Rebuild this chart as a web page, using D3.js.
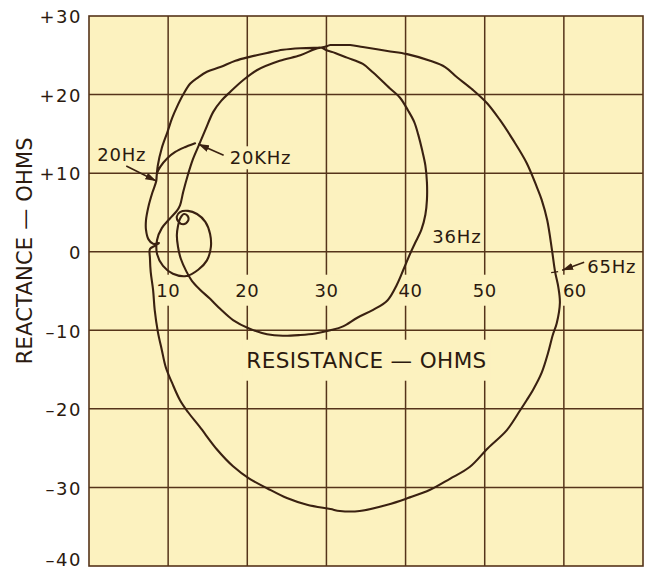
<!DOCTYPE html>
<html>
<head>
<meta charset="utf-8">
<script src="https://cdn.jsdelivr.net/npm/d3@7"></script>
<style>
  html, body { margin: 0; padding: 0; background: #ffffff; }
  svg { display: block; }
  text { font-family: "DejaVu Sans", "Noto Sans", sans-serif; fill: #2b1a0f; }
</style>
</head>
<body>
<svg id="chart" width="649" height="572"></svg>
<script>
// ---- Impedance trace, resistance (ohms) vs reactance (ohms), in frequency order ----
// 20 Hz upward, over the top and down through the 36 Hz peak
const traceLow = [
  [8.5, 9.0], [8.7, 11.0], [9.2, 13.2], [9.9, 15.2], [10.5, 17.0], [11.1, 18.4], [11.9, 20.0],
  [12.8, 21.4], [13.8, 22.2], [14.9, 22.9], [16.6, 23.5], [18.5, 24.3], [20.3, 24.8], [22.5, 25.3],
  [24.5, 25.7], [26.7, 25.9], [28.6, 25.95], [29.4, 25.95],
  [30.1, 25.6], [31.1, 25.3], [32.6, 24.7], [34.6, 23.9], [35.9, 22.8], [38.0, 20.8], [39.3, 19.6],
  [40.3, 18.0], [41.1, 16.5], [41.6, 14.9], [42.1, 12.9], [42.5, 11.0], [42.7, 8.8], [42.7, 6.6],
  [42.5, 4.7], [42.0, 2.8], [41.2, 1.1], [40.6, -0.2], [39.8, -2.1], [38.9, -4.2], [37.7, -6.2],
  [35.9, -7.4], [33.9, -8.4], [32.1, -9.5], [30.5, -10.0], [28.6, -10.4], [26.7, -10.6], [24.5, -10.7],
  [22.5, -10.5], [20.3, -9.8], [18.2, -8.7], [16.6, -7.3], [15.3, -6.0], [14.0, -4.8], [13.0, -3.7]
];
// back up the left side, small curl and the loop around 12 ohms
const traceLoops = [
  [12.3, -2.5], [11.6, -0.9], [11.25, 0.6], [11.1, 2.1], [11.25, 3.3], [11.5, 4.2], [12.0, 4.8],
  [12.5, 4.5], [12.5, 3.9], [11.9, 3.5], [11.25, 3.9], [11.1, 4.5], [11.5, 5.05], [12.5, 5.2],
  [13.65, 4.8], [14.7, 3.8], [15.3, 2.25], [15.4, 0.6], [14.9, -1.1], [13.8, -2.3], [12.3, -3.1],
  [10.6, -2.8], [9.35, -1.8], [8.6, -0.3], [8.6, 1.5], [9.2, 3.0], [10.2, 4.2], [11.1, 5.2], [11.5, 5.9]
];
// the large circle through the 65 Hz peak
const traceMid = [
  [11.9, 7.6], [12.5, 9.8], [13.1, 11.7], [13.9, 13.6], [14.7, 15.5], [15.7, 17.8], [16.7, 19.2],
  [17.8, 20.3], [19.5, 21.85], [21.2, 23.1], [24.1, 24.3], [26.7, 25.0], [28.6, 25.8], [29.7, 26.05],
  [30.5, 26.3], [31.3, 26.3], [33.0, 26.3], [34.6, 26.05], [37.7, 25.55], [40.2, 25.15], [43.1, 24.3],
  [45.0, 23.5], [46.5, 22.2], [48.5, 20.6], [50.3, 18.9], [51.9, 16.8], [53.6, 14.2], [55.3, 11.3],
  [56.6, 8.2], [57.2, 6.6], [57.9, 4.0], [58.5, 0.2], [58.9, -2.6], [59.3, -4.5], [59.5, -6.5],
  [59.1, -9.1], [58.6, -10.6], [58.0, -12.9], [57.2, -15.4], [56.1, -17.6], [55.3, -18.9], [54.5, -20.15],
  [52.8, -22.7], [50.4, -25.0], [48.1, -27.4], [45.6, -28.9], [43.1, -30.3], [40.3, -31.35], [37.7, -32.2],
  [34.2, -33.0], [31.7, -33.0], [30.5, -32.75], [27.55, -32.2], [25.0, -31.35], [22.5, -30.1], [20.3, -28.9],
  [18.2, -27.3], [16.2, -25.2], [14.0, -22.3], [12.5, -20.4], [11.5, -18.9], [10.5, -16.7], [9.7, -14.7],
  [9.2, -12.5], [8.7, -10.2], [8.3, -7.4], [8.1, -4.9], [7.8, -2.6], [7.7, -0.8], [7.7, 0.35]
];
// high-frequency end, rising to 20 kHz
const traceHigh = [
  [8.3, 0.75], [8.85, 1.1], [8.1, 1.0], [7.5, 1.6], [7.2, 2.8], [7.2, 4.0], [7.5, 5.7], [8.0, 7.5],
  [8.5, 9.0], [8.6, 10.0], [9.0, 10.8], [9.9, 11.9], [10.9, 12.7], [12.1, 13.3], [13.4, 13.8]
];

// Frequency markers: label and the point on the trace
const freqLabels = ["20Hz", "20KHz", "36Hz", "65Hz"];
const freqPoints = [[8.5, 9.0], [13.6, 13.8], [40.6, -0.2], [58.9, -2.6]];

// Axes
const xTicks = [10, 20, 30, 40, 50, 60];
const xTickLabels = ["10", "20", "30", "40", "50", "60"];
const yTicks = [30, 20, 10, 0, -10, -20, -30, -40];
const yTickLabels = ["+30", "+20", "+10", "0", "–10", "–20", "–30", "–40"];
const xTitle = "RESISTANCE — OHMS";
const yTitle = "REACTANCE — OHMS";

// ---- layout ----
const margin = { left: 89, top: 16, right: 6, bottom: 6 };
const svg = d3.select("#chart");
const W = +svg.attr("width"), H = +svg.attr("height");
const x = d3.scaleLinear().domain([0, 70]).range([margin.left, W - margin.right]);
const y = d3.scaleLinear().domain([-40, 30]).range([H - margin.bottom, margin.top]);

const paper = "#fcf2bf";
const ink = "#3a2111";
const gridInk = "#55341a";

const gBg = svg.append("g");
const gGrid = svg.append("g");
const gLabelBg = svg.append("g");
const gCurve = svg.append("g");
const gText = svg.append("g");

gBg.append("rect")
  .attr("x", x(0)).attr("y", y(30))
  .attr("width", x(70) - x(0)).attr("height", y(-40) - y(30))
  .attr("fill", paper);

// grid
gGrid.selectAll("line.v").data(d3.range(10, 70, 10)).join("line")
  .attr("x1", d => x(d)).attr("x2", d => x(d))
  .attr("y1", y(30)).attr("y2", y(-40))
  .attr("stroke", gridInk).attr("stroke-width", 1.5);
gGrid.selectAll("line.h").data(d3.range(-30, 30, 10)).join("line")
  .attr("y1", d => y(d)).attr("y2", d => y(d))
  .attr("x1", x(0)).attr("x2", x(70))
  .attr("stroke", gridInk).attr("stroke-width", 1.5);

// y axis labels (the lowest one is lifted to stay inside the page)
const yAxis = d3.axisLeft(y).tickValues(yTicks)
  .tickFormat((d, i) => yTickLabels[i]).tickSize(0).tickPadding(7);
const gy = svg.append("g").attr("transform", `translate(${x(0)},0)`).call(yAxis);
gy.select(".domain").remove();
gy.selectAll("text")
  .attr("font-family", "DejaVu Sans, sans-serif")
  .attr("font-size", 18).attr("fill", "#2b1a0f")
  .attr("letter-spacing", 1.5)
  .attr("dy", d => d === -40 ? "-0.05em" : "0.38em");

// label with a paper-coloured backing that interrupts the grid
function boxedText(txt, px, py, opts) {
  const t = gText.append("text")
    .attr("x", px).attr("y", py)
    .attr("font-size", opts.size)
    .attr("text-anchor", opts.anchor || "start")
    .attr("letter-spacing", opts.spacing || 0)
    .text(txt);
  if (opts.pad) {
    const b = t.node().getBBox();
    gLabelBg.append("rect")
      .attr("x", b.x - opts.pad[0]).attr("y", b.y - opts.pad[1])
      .attr("width", b.width + 2 * opts.pad[0]).attr("height", b.height + 2 * opts.pad[1])
      .attr("fill", paper);
  }
  return t;
}

// x tick labels sit just under the zero-reactance line
const xNudge = { 40: 5, 60: 11 };
xTicks.forEach((v, i) => {
  boxedText(xTickLabels[i], x(v) + (xNudge[v] || 0), y(0) + 45,
    { size: 18, anchor: "middle", spacing: 0.5, pad: [2, 5] });
});

// axis titles
boxedText(xTitle, (x(0) + x(70)) / 2 + 0.5, y(0) + 116,
  { size: 21.5, anchor: "middle", spacing: 0.4, pad: [4, 8] });

gText.append("text")
  .attr("transform", `translate(32,${y(0) - 1}) rotate(-90)`)
  .attr("text-anchor", "middle")
  .attr("font-size", 21)
  .attr("letter-spacing", 0.2)
  .text(yTitle);

// border
gGrid.append("rect")
  .attr("x", x(0)).attr("y", y(30))
  .attr("width", x(70) - x(0)).attr("height", y(-40) - y(30))
  .attr("fill", "none").attr("stroke", gridInk).attr("stroke-width", 1.6);

// impedance trace
const trace = traceLow.concat(traceLoops, traceMid, traceHigh);
const line = d3.line()
  .x(d => x(d[0])).y(d => y(d[1]))
  .curve(d3.curveCatmullRom.alpha(0.5));
gCurve.append("path")
  .attr("d", line(trace))
  .attr("fill", "none").attr("stroke", ink)
  .attr("stroke-width", 2.1)
  .attr("stroke-linejoin", "round").attr("stroke-linecap", "round");

// arrowheads
svg.append("defs").append("marker")
  .attr("id", "head").attr("markerUnits", "userSpaceOnUse")
  .attr("markerWidth", 12).attr("markerHeight", 8)
  .attr("refX", 11).attr("refY", 4).attr("orient", "auto")
  .append("path").attr("d", "M0,0.5 L11,4 L0,7.5 Z").attr("fill", ink);

// frequency annotations: text offset and arrow start/end offsets from the trace point
const annot = [
  { tx: -59, ty: -20, a: [-30, -15, 0, 0] },
  { tx: 33, ty: 21, a: [27, 12, 1.5, 0.7] },
  { tx: 22, ty: -10, a: null },
  { tx: 32, ty: 1, a: [29, -10, 7, -2] }
];
freqLabels.forEach((lab, i) => {
  const px = x(freqPoints[i][0]), py = y(freqPoints[i][1]);
  const an = annot[i];
  boxedText(lab, px + an.tx, py + an.ty, { size: 18, spacing: 0.8, pad: [1, 1] });
  if (an.a) {
    gCurve.append("line")
      .attr("x1", px + an.a[0]).attr("y1", py + an.a[1])
      .attr("x2", px + an.a[2]).attr("y2", py + an.a[3])
      .attr("stroke", ink).attr("stroke-width", 1.6)
      .attr("marker-end", "url(#head)");
  }
});
// small tick where the 65 Hz arrow meets the trace
{
  const px = x(freqPoints[3][0]), py = y(freqPoints[3][1]);
  gCurve.append("line")
    .attr("x1", px - 4).attr("y1", py + 0.5)
    .attr("x2", px + 3).attr("y2", py - 0.5)
    .attr("stroke", ink).attr("stroke-width", 1.4);
}
</script>
</body>
</html>
